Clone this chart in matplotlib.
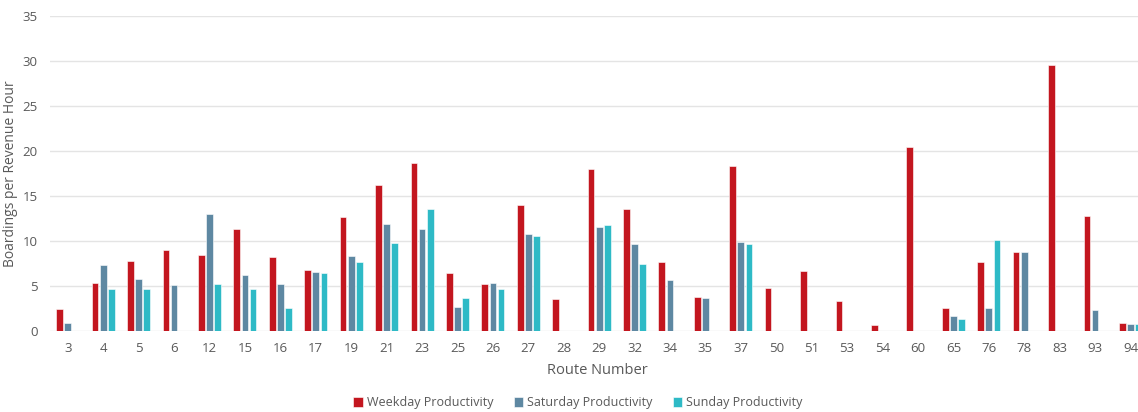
import numpy as np
import matplotlib.pyplot as plt

plt.rcParams['font.family'] = ['Open Sans', 'DejaVu Sans']

routes = ['3', '4', '5', '6', '12', '15', '16', '17', '19', '21', '23', '25', '26', '27', '28',
          '29', '32', '34', '35', '37', '50', '51', '53', '54', '60', '65', '76', '78', '83', '93', '94']
weekday = [2.4, 5.3, 7.8, 9.0, 8.4, 11.3, 8.2, 6.8, 12.7, 16.2, 18.7, 6.4, 5.2, 14.0, 3.5,
           18.0, 13.5, 7.7, 3.8, 18.3, 4.8, 6.6, 3.3, 0.6, 20.4, 2.5, 7.6, 8.8, 29.6, 12.8, 0.9]
saturday = [0.9, 7.3, 5.8, 5.1, 13.0, 6.2, 5.2, 6.5, 8.3, 11.9, 11.3, 2.7, 5.3, 10.8, 0,
            11.5, 9.7, 5.6, 3.7, 9.9, 0, 0, 0, 0, 0, 1.6, 2.5, 8.8, 0, 2.3, 0.8]
sunday = [0, 4.7, 4.7, 0, 5.2, 4.6, 2.5, 6.4, 7.6, 9.8, 13.5, 3.6, 4.6, 10.5, 0,
          11.8, 7.4, 0, 0, 9.7, 0, 0, 0, 0, 0, 1.3, 10.1, 0, 0, 0, 0.8]

series = [('Weekday Productivity', weekday, '#C3161F'),
          ('Saturday Productivity', saturday, '#5E88A2'),
          ('Sunday Productivity', sunday, '#2EBAC6')]

fig = plt.figure(figsize=(11.38, 4.12), dpi=100)
ax = fig.add_axes([0.044, 0.197, 0.965, 0.764])

x = np.arange(len(routes))
w = 0.19
step = 0.23
for i, (name, vals, col) in enumerate(series):
    ax.bar(x + (i - 1) * step, vals, width=w, color=col, edgecolor='white',
           linewidth=0.4, label=name, zorder=3)

ax.set_xlim(-0.5, len(routes) - 0.5)
ax.set_ylim(0, 35)
ax.set_yticks(range(0, 36, 5))
ax.set_xticks(x)
ax.set_xticklabels(routes)
ax.grid(axis='y', color='#E4E4E4', linewidth=1, zorder=0)
for s in ax.spines.values():
    s.set_visible(False)
ax.tick_params(length=0, colors='#595959', labelsize=9.5, pad=8)
ax.tick_params(axis='y', pad=9)

ax.set_ylabel('Boardings per Revenue Hour', color='#595959', fontsize=10)
# keep the rotated label inside the left edge
ax.yaxis.set_label_coords(-0.029, 0.5)
fig.text(0.525, 0.1, 'Route Number', color='#595959', fontsize=10.5, ha='center', va='center')

leg = fig.legend(loc='center', bbox_to_anchor=(0.508, 0.022), ncol=3, frameon=False,
                 fontsize=9, handlelength=0.75, handleheight=0.75, handletextpad=0.35,
                 columnspacing=1.6, labelcolor='#595959')

fig.savefig('out.png', dpi=100)
